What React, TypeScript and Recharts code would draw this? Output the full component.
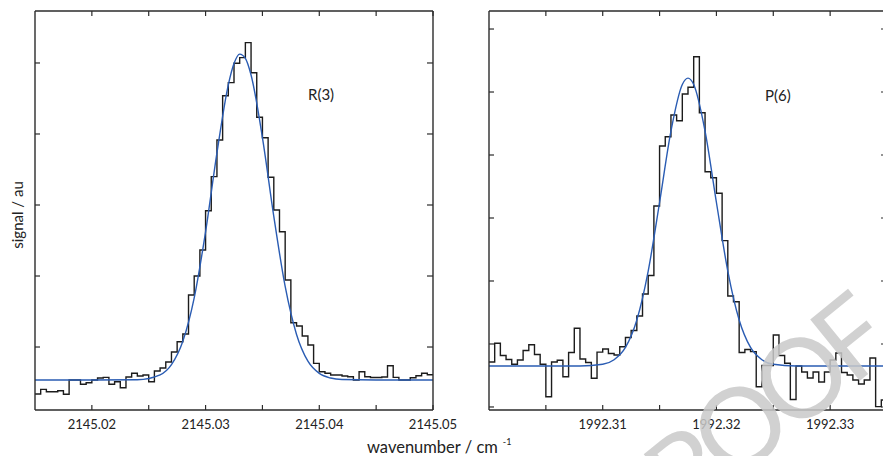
import { LineChart, Line, XAxis, YAxis } from 'recharts';

// left panel: R(3) line, bins of 0.0005 cm-1 starting at the axis edge
const leftBinStart = 2145.015;
const rightBinStart = 1992.3;
const binWidth = 0.0005;

const leftCounts = [
  0.338, 0.404, 0.37, 0.37, 0.385, 0.334, 0.535, 0.535, 0.475, 0.497,
  0.535, 0.563, 0.573, 0.475, 0.511, 0.427, 0.577, 0.63, 0.592, 0.606,
  0.511, 0.662, 0.704, 0.789, 0.93, 1.075, 1.183, 1.732, 2.0, 2.366,
  2.92, 3.399, 3.915, 4.539, 4.723, 4.996, 5.075, 5.286, 4.863, 4.235,
  3.948, 3.39, 2.93, 2.624, 1.944, 1.342, 1.296, 1.155, 1.028, 0.77,
  0.652, 0.63, 0.606, 0.606, 0.592, 0.582, 0.535, 0.652, 0.582, 0.57,
  0.57, 0.577, 0.737, 0.573, 0.535, 0.535, 0.568, 0.596, 0.63, 0.61,
];

const leftFitX = [
  2145.015, 2145.02, 2145.024, 2145.026, 2145.027, 2145.028, 2145.029, 2145.03,
  2145.031, 2145.032, 2145.0325, 2145.033, 2145.0335, 2145.034, 2145.035, 2145.036,
  2145.037, 2145.038, 2145.039, 2145.04, 2145.041, 2145.042, 2145.045, 2145.05,
];
const leftFitY = [
  0.535, 0.535, 0.54, 0.609, 0.752, 1.081, 1.692, 2.623,
  3.734, 4.693, 4.992, 5.125, 5.065, 4.831, 3.95, 2.839,
  1.853, 1.177, 0.8, 0.628, 0.563, 0.542, 0.535, 0.535,
];

// right panel: P(6) line
const rightCounts = [
  0.714, 1.011, 0.817, 0.754, 0.679, 0.746, 0.897, 0.989, 0.832, 0.679,
  0.163, 0.714, 0.741, 0.481, 0.865, 1.249, 0.762, 0.706, 0.456, 0.87,
  0.921, 0.849, 0.825, 0.957, 1.103, 1.214, 1.444, 1.794, 2.087, 3.19,
  4.143, 4.29, 4.635, 4.544, 4.968, 5.075, 5.56, 4.671, 3.735, 3.64,
  3.392, 2.64, 1.762, 1.671, 0.865, 0.913, 0.878, 0.322, 0.659, 0.659,
  1.143, 0.817, 0.694, 0.119, 0.651, 0.556, 0.46, 0.556, 0.397, 0.556,
  0.746, 0.857, 0.548, 0.508, 0.429, 0.365, 0.429, 0.778, 0.005, 0.111,
];

const rightFitX = [
  1992.3, 1992.305, 1992.308, 1992.31, 1992.311, 1992.312, 1992.313, 1992.314,
  1992.315, 1992.316, 1992.317, 1992.3175, 1992.318, 1992.319, 1992.32, 1992.321,
  1992.322, 1992.323, 1992.324, 1992.325, 1992.327, 1992.33, 1992.335,
];
const rightFitY = [
  0.65, 0.65, 0.651, 0.678, 0.75, 0.945, 1.381, 2.158,
  3.246, 4.379, 5.119, 5.22, 5.119, 4.379, 3.246, 2.158,
  1.381, 0.945, 0.75, 0.678, 0.651, 0.65, 0.65,
];

const leftXTicks = [2145.02, 2145.025, 2145.03, 2145.035, 2145.04, 2145.045, 2145.05];
const rightXTicks = [1992.305, 1992.31, 1992.315, 1992.32, 1992.325, 1992.33, 1992.335];
const leftYTicks = [1, 2, 3, 4, 5];
const rightYTicks = [0, 1, 2, 3, 4, 5, 6];

const toSteps = (start: number, counts: number[]) =>
  [...counts, counts[counts.length - 1]].map((y, i) => ({ x: start + i * binWidth, y }));

const toPoints = (xs: number[], ys: number[]) => xs.map((x, i) => ({ x, y: ys[i] }));

const majorOnly = (v: number) =>
  Math.abs(v * 100 - Math.round(v * 100)) < 1e-6 ? v.toFixed(2) : '';

const axisColor = '#2b2b2b';
const PLOT_W = 398;
const PLOT_TOP = 11;

// inward tick on the bottom edge plus the label under it
function BottomTick({ x, y, payload }: any) {
  return (
    <g>
      <line x1={x} x2={x} y1={y} y2={y - 5} stroke={axisColor} strokeWidth={1.2} />
      <text x={x} y={y + 19} textAnchor="middle" fontSize={13} fill="#222" fontFamily="Lato">
        {majorOnly(payload.value)}
      </text>
    </g>
  );
}

// the frame axes are mirrored so their ticks point into the plot and take no space
function Panel({ width, plotLeft, xDomain, xTicks, yDomain, yTicks, hist, fit }: any) {
  const frame = {
    type: 'number' as const,
    allowDataOverflow: true,
    interval: 0 as const,
    tickFormatter: () => '',
    tick: { fontSize: 1 },
    mirror: true,
    tickSize: 5,
    tickLine: { stroke: axisColor, strokeWidth: 1.2 },
    stroke: axisColor,
    strokeWidth: 1.4,
  };
  return (
    <LineChart
      width={width}
      height={440}
      margin={{ top: PLOT_TOP, right: width - plotLeft - PLOT_W, left: plotLeft, bottom: 0 }}
    >
      <XAxis
        xAxisId="b"
        dataKey="x"
        type="number"
        domain={xDomain}
        allowDataOverflow
        ticks={xTicks}
        interval={0}
        tickLine={false}
        tickSize={0}
        tickMargin={0}
        height={30}
        stroke={axisColor}
        strokeWidth={1.4}
        tick={<BottomTick />}
      />
      <XAxis xAxisId="t" orientation="top" dataKey="x" domain={xDomain} ticks={xTicks} height={10} {...frame} />
      <YAxis yAxisId="l" orientation="left" domain={yDomain} ticks={yTicks} width={10} {...frame} />
      <YAxis yAxisId="r" orientation="right" domain={yDomain} ticks={yTicks} width={10} {...frame} tickSize={6} />
      <Line
        xAxisId="b"
        yAxisId="l"
        data={hist}
        dataKey="y"
        type="stepAfter"
        stroke="#1c1c1c"
        strokeWidth={1.4}
        dot={false}
        activeDot={false}
        isAnimationActive={false}
      />
      <Line
        xAxisId="b"
        yAxisId="l"
        data={fit}
        dataKey="y"
        type="monotone"
        stroke="#2a5cb3"
        strokeWidth={1.4}
        dot={false}
        activeDot={false}
        isAnimationActive={false}
      />
    </LineChart>
  );
}

export default function App() {
  return (
    <div
      style={{
        position: 'absolute',
        left: 0,
        top: 0,
        width: 883,
        height: 456,
        overflow: 'hidden',
        background: '#fff',
        fontFamily: 'Lato, sans-serif',
      }}
    >
      <div style={{ position: 'absolute', left: 0, top: 0 }}>
        <Panel
          width={470}
          plotLeft={35}
          xDomain={[2145.015, 2145.05]}
          xTicks={leftXTicks}
          yDomain={[0.113, 5.732]}
          yTicks={leftYTicks}
          hist={toSteps(leftBinStart, leftCounts)}
          fit={toPoints(leftFitX, leftFitY)}
        />
      </div>
      <div style={{ position: 'absolute', left: 440, top: 0 }}>
        <Panel
          width={470}
          plotLeft={49}
          xDomain={[1992.3, 1992.335]}
          xTicks={rightXTicks}
          yDomain={[-0.048, 6.286]}
          yTicks={rightYTicks}
          hist={toSteps(rightBinStart, rightCounts)}
          fit={toPoints(rightFitX, rightFitY)}
        />
      </div>
      <svg
        width={883}
        height={456}
        style={{ position: 'absolute', left: 0, top: 0, pointerEvents: 'none' }}
        fontFamily="Lato"
      >
        <text x={308} y={100} fontSize={15} fill="#222">R(3)</text>
        <text x={765} y={101} fontSize={15} fill="#222">P(6)</text>
        <text
          x={17}
          y={215}
          fontSize={15}
          fill="#222"
          textAnchor="middle"
          transform="rotate(-90 17 215)"
          dominantBaseline="central"
        >
          signal / au
        </text>
        <text x={367} y={453} fontSize={16.5} fill="#222">
          wavenumber / cm
          <tspan dx={5} dy={-8} fontSize={9}>-1</tspan>
        </text>
        <text
          x={642}
          y={557}
          fontSize={110}
          letterSpacing={-10}
          fill="#c9c9c9"
          fillOpacity={0.85}
          transform="rotate(-39 642 557)"
        >
          PROOF
        </text>
      </svg>
    </div>
  );
}
